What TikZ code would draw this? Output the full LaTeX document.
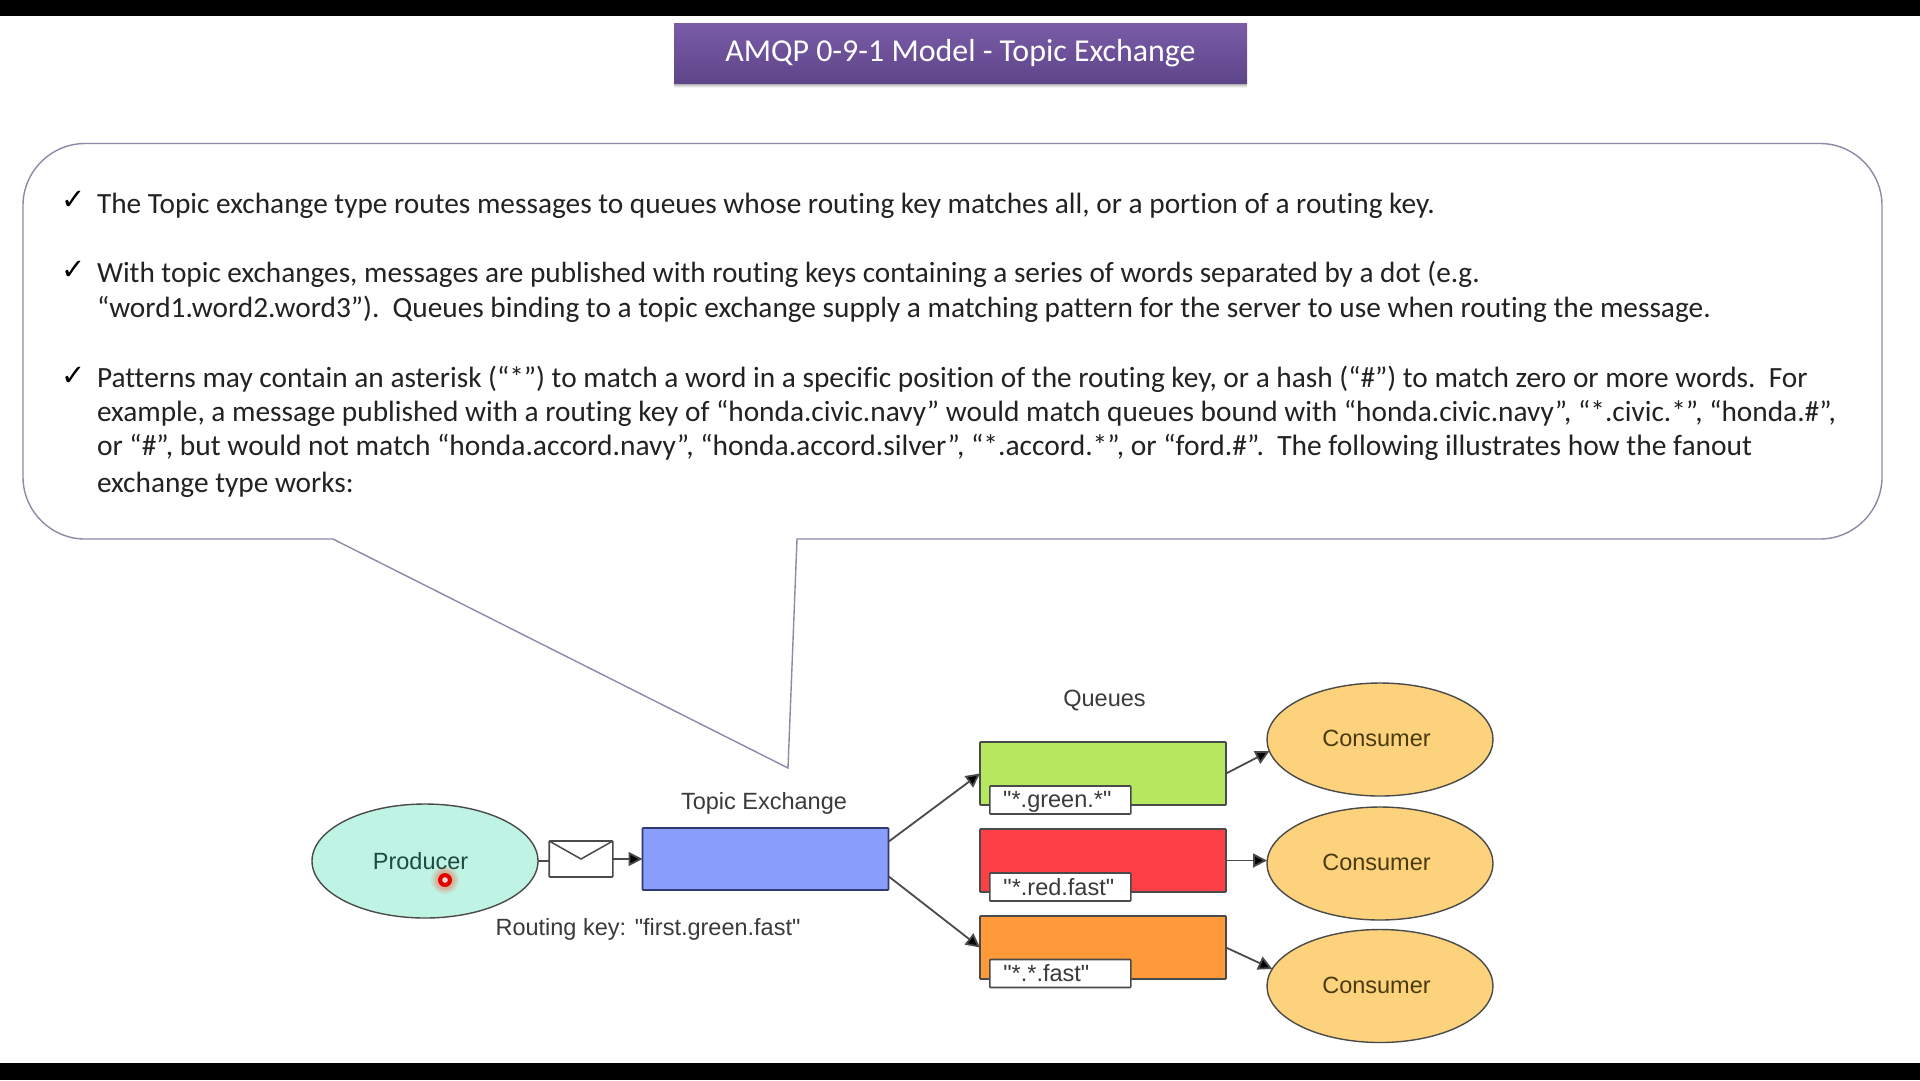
\documentclass[tikz,border=0pt]{standalone}
\usepackage{fontspec}
\newfontfamily\diaf{Liberation Sans}
\newfontfamily\bodyf[Ligatures=NoCommon]{Carlito}
\newfontfamily\dejav{DejaVu Sans}
\usetikzlibrary{arrows.meta,shapes.geometric}
\definecolor{bodytext}{HTML}{222222}
\definecolor{difftext}{HTML}{3A3A3A}
\definecolor{edgegray}{HTML}{4A4A4A}
\definecolor{bubbleline}{HTML}{8C8AA6}
\definecolor{titletop}{HTML}{7A5CA8}
\definecolor{titlebot}{HTML}{5E4589}
\definecolor{consumerfill}{HTML}{FDD27C}
\definecolor{consumertext}{HTML}{4A3A12}
\definecolor{producerfill}{HTML}{BFF3E3}
\definecolor{producertext}{HTML}{1F4A40}
\definecolor{exfill}{HTML}{8A9EFE}
\definecolor{exline}{HTML}{303A70}
\definecolor{greenq}{HTML}{B5E85F}
\definecolor{redq}{HTML}{FC4045}
\definecolor{orangeq}{HTML}{FE9A3A}
\tikzset{
  body/.style={anchor=base west,inner sep=0pt,outer sep=0pt,text=bodytext,font=\bodyf\fontsize{29.33}{32}\selectfont},
  tick/.style={anchor=center,inner sep=0pt,outer sep=0pt,text=black,font=\dejav\fontsize{29}{32}\selectfont},
  dia/.style={inner sep=0pt,outer sep=0pt,text=difftext,font=\diaf\fontsize{23.5}{27}\selectfont},
  box/.style={draw=edgegray,line width=1.6pt,inner sep=0pt,outer sep=0pt,rounded corners=0.8pt},
  oval/.style={draw=edgegray,line width=1.4pt,shape=ellipse,inner sep=0pt,outer sep=0pt},
  queuebox/.style={box,minimum width=246pt,minimum height=63pt},
  tag/.style={box,fill=white,minimum width=141pt,minimum height=28pt,text=difftext,font=\diaf\fontsize{23.5}{27}\selectfont},
  consumer/.style={oval,fill=consumerfill,minimum width=226pt,minimum height=113pt,text=consumertext,text height=17pt,text depth=2.4pt,font=\diaf\fontsize{23.5}{27}\selectfont},
  flow/.style={draw=edgegray,line width=1.8pt,-{Triangle[length=14pt,width=14pt,fill=black]}},
}
\begin{document}
\begin{tikzpicture}[x=1pt,y=-1pt]
\useasboundingbox (0,0) rectangle (1920,1080);
\fill[white] (0,0) rectangle (1920,1080);
% black bars
\fill[black] (0,0) rectangle (1920,16);
\fill[black] (0,1063) rectangle (1920,1080);

% title with soft shadow
\foreach \g/\o in {5/.05,4/.07,3/.09,2/.12,1/.15}{
  \fill[black,opacity=\o] (674,27) rectangle (1247,83+\g);
}
\node[top color=titletop,bottom color=titlebot,minimum width=573pt,minimum height=60pt,inner sep=0pt,outer sep=0pt,text=white,text height=23pt,text depth=6pt,font=\bodyf\fontsize{31.9}{35}\selectfont] (title) at (960.5,53) {AMQP 0-9-1 Model - Topic Exchange};

% callout bubble
\draw[bubbleline,line width=1.4pt,line join=miter]
  (333,539) -- (788,768) -- (797,539) -- (1820,539)
  .. controls (1854,539) and (1882,511) .. (1882,477)
  -- (1882,205.5)
  .. controls (1882,171.5) and (1854,143.5) .. (1820,143.5)
  -- (85,143.5)
  .. controls (51,143.5) and (23,171.5) .. (23,205.5)
  -- (23,477)
  .. controls (23,511) and (51,539) .. (85,539) -- cycle;

% bullet text
\node[tick] (t1) at (73.5,200.5) {✓};
\node[tick] (t2) at (73.5,270) {✓};
\node[tick] (t3) at (73.5,376) {✓};
\node[body] (l1) at (97,213) {The Topic exchange type routes messages to queues whose routing key matches all, or a portion of a routing key.};
\node[body,font=\bodyf\fontsize{29.25}{32}\selectfont] (l2) at (97,282.5) {With topic exchanges, messages are published with routing keys containing a series of words separated by a dot (e.g.};
\node[body] (l3) at (97,317) {“word1.word2.word3”).\ \ Queues binding to a topic exchange supply a matching pattern for the server to use when routing the message.};
\node[body] (l4) at (97,387) {Patterns may contain an asterisk (“*”) to match a word in a specific position of the routing key, or a hash (“\#”) to match zero or more words.\ \ For};
\node[body] (l5) at (97,421) {example, a message published with a routing key of “honda.civic.navy” would match queues bound with “honda.civic.navy”, “*.civic.*”, “honda.\#”,};
\node[body,font=\bodyf\fontsize{29.47}{32}\selectfont] (l6) at (97,455.5) {or “\#”, but would not match “honda.accord.navy”, “honda.accord.silver”, “*.accord.*”, or “ford.\#”.\ \ The following illustrates how the fanout};
\node[body] (l7) at (97,492) {exchange type works:};

% diagram nodes
\node[oval,fill=producerfill,minimum width=226pt,minimum height=114pt] (prod) at (425,861) {};
\node[inner sep=0pt,outer sep=0pt,text=producertext,font=\diaf\fontsize{23.5}{27}\selectfont] (prodtext) at (420.6,861) {Producer};
\node[box,fill=white,minimum width=63.6pt,minimum height=36pt] (env) at (581,859) {};
\draw[edgegray,line width=1.5pt] (env.north west) -- (env.center) -- (env.north east);
\node[box,draw=exline,fill=exfill,minimum width=246pt,minimum height=62pt] (ex) at (765.5,859) {};
\node[dia] (extitle) at (764,803) {Topic Exchange};
\node[dia] (rkey) at (648,929) {Routing key: "first.green.fast"};
\node[dia] (qtitle) at (1104.5,701) {Queues};

\node[queuebox,fill=greenq] (q1) at (1103,773.5) {};
\node[queuebox,fill=redq] (q2) at (1103,860.5) {};
\node[queuebox,fill=orangeq] (q3) at (1103,947.5) {};
\node[tag,text height=17pt,text depth=2.6pt] (tag1) at (1060.3,800) {\hspace*{-6pt}"*.green.*"};
\node[tag] (tag2) at (1060.3,887) {\hspace*{-3pt}"*.red.fast"};
\node[tag] (tag3) at (1060.3,973.5) {\hspace*{-28pt}"*.*.fast"};

\node[consumer] (c1) at (1380,739.5) {\hspace*{-7pt}Consumer};
\node[consumer] (c2) at (1380,863.5) {\hspace*{-7pt}Consumer};
\node[consumer] (c3) at (1380,986) {\hspace*{-7pt}Consumer};

% connectors
\draw[edgegray,line width=1.6pt] (prod.east) -- (prod.east -| env.west);
\draw[flow] (env.east) -- (ex.west);
\draw[flow] (ex.8.8) -- (q1.west);
\draw[flow] (ex.-8.8) -- (q3.west);
\draw[flow] (q1.east) -- (c1.186.5);
\draw[flow] (q2.east) -- (c2.west |- q2.east);
\draw[flow] (q3.east) -- (c3.171.7);

% red pointer
\foreach \r/\o in {14/.08,12/.10,10/.14}{
  \fill[red!70!orange,opacity=\o] (445,880) circle[radius=\r pt];
}
\fill[red!90!black] (445,880) circle[radius=7pt];
\fill[white!85!red] (445,880) circle[radius=2.8pt];
\end{tikzpicture}
\end{document}
